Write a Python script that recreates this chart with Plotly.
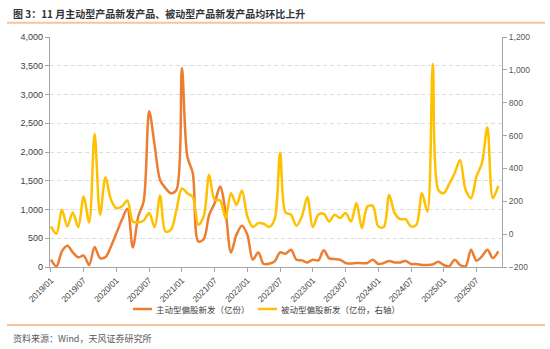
import plotly.graph_objects as go

# Monthly new issuance of equity-oriented funds, 2019/01 - 2025/11
months = [f"{y}/{m:02d}" for y in range(2019, 2026) for m in range(1, 13)][:83]

# 主动型偏股新发（亿份） - left axis
active = [127, 12, 272, 370, 254, 168, 197, 35, 347, 156, 173, 358,
          590, 820, 1011, 341, 878, 1150, 2710, 2120, 1514, 1370, 1283, 1340,
          3460, 1920, 1630, 445, 485, 907, 1110, 1400, 965, 254, 560, 717,
          560, 127, 254, 52, 58, 98, 254, 231, 300, 127, 115, 80,
          127, 115, 290, 150, 139, 127, 70, 60, 70, 65, 70, 127,
          52, 70, 104, 80, 80, 104, 52, 52, 35, 35, 46, 92,
          35, 12, 127, 35, 12, 300, 110, 185, 300, 156, 272]

# 被动型偏股新发（亿份，右轴） - right axis
passive = [47, 2, 148, 47, 132, 43, 229, 71, 610, 118, 346, 209,
           158, 168, 205, 77, 71, 83, 128, 43, 233, 15, 27, 148,
           278, 249, 225, 57, 108, 361, 209, 205, 98, 249, 178, 265,
           108, 43, 67, 63, 43, 91, 496, 132, 118, 51, 108, 225,
           43, 118, 124, 77, 118, 98, 128, 77, 189, 37, 168, 172,
           47, 43, 239, 128, 91, 91, 47, 57, 249, 138, 1035, 270,
           249, 306, 371, 452, 270, 219, 351, 432, 650, 219, 294]

names = ["主动型偏股新发（亿份）", "被动型偏股新发（亿份，右轴）"]
colors = ["#ED7D31", "#FFC000"]

tick_idx = list(range(0, len(months), 6))
tick_text = [months[i] for i in tick_idx]

W_PX, H_PX = 550, 349
ML, MR, MT, MB = 50, 48, 37, 82
PW, PH = W_PX - ML - MR, H_PX - MT - MB


def px_x(p):
    return (p - ML) / PW


def px_y(p):
    return (H_PX - MB - p) / PH


FONT = "Liberation Sans, Noto Sans CJK SC, sans-serif"
CJK = "Noto Sans CJK SC, Liberation Sans, sans-serif"

x = list(range(len(months)))
fig = go.Figure()
fig.add_trace(go.Scatter(x=x, y=active, mode="lines", name=names[0],
                         line=dict(color=colors[0], width=2.5, shape="spline", smoothing=0.9),
                         yaxis="y"))
fig.add_trace(go.Scatter(x=x, y=passive, mode="lines", name=names[1],
                         line=dict(color=colors[1], width=2.5, shape="spline", smoothing=0.9),
                         yaxis="y2"))

shapes = []
annotations = []

# header and footer rules
for yp in (22.7, 325):
    shapes.append(dict(type="line", xref="paper", yref="paper",
                       x0=px_x(7), x1=px_x(545), y0=px_y(yp), y1=px_y(yp),
                       line=dict(color="#F6C39E", width=2)))

annotations.append(dict(text="<b>图 3：11 月主动型产品新发产品、被动型产品新发产品均环比上升</b>",
                        xref="paper", yref="paper", x=px_x(11), y=px_y(14),
                        xanchor="left", yanchor="middle", showarrow=False,
                        font=dict(family=CJK, size=10, color="#333333")))
annotations.append(dict(text="资料来源：Wind，天风证券研究所",
                        xref="paper", yref="paper", x=px_x(11), y=px_y(338),
                        xanchor="left", yanchor="middle", showarrow=False,
                        font=dict(family=CJK, size=9, color="#595959")))

# legend drawn below the axis
legend_pos = [(133, 152), (258, 277)]
for (a, b), nm, c in zip(legend_pos, names, colors):
    shapes.append(dict(type="line", xref="paper", yref="paper",
                       x0=px_x(a), x1=px_x(b), y0=px_y(309), y1=px_y(309),
                       line=dict(color=c, width=2.5)))
    annotations.append(dict(text=nm, xref="paper", yref="paper",
                            x=px_x(b + 2), y=px_y(309), xanchor="left", yanchor="middle",
                            showarrow=False,
                            font=dict(family=CJK, size=8.5, color="#404040")))

fig.update_layout(
    width=W_PX, height=H_PX,
    margin=dict(l=ML, r=MR, t=MT, b=MB),
    paper_bgcolor="white", plot_bgcolor="white",
    showlegend=False,
    shapes=shapes, annotations=annotations,
    xaxis=dict(range=[-0.18, 82.68], tickmode="array", tickvals=tick_idx, ticktext=tick_text,
               tickangle=-45, ticks="outside", ticklen=4, tickcolor="#A6A6A6",
               showline=True, linecolor="#A6A6A6", linewidth=1.2, showgrid=False,
               zeroline=False, tickfont=dict(family=FONT, size=8.5, color="#404040")),
    yaxis=dict(range=[0, 4000], dtick=500, tickformat=",", ticks="outside", ticklen=4,
               tickcolor="#A6A6A6", showline=True, linecolor="#A6A6A6", linewidth=1.2,
               showgrid=True, gridcolor="#DDDDDD", griddash="4px,3px", gridwidth=1,
               zeroline=False, tickfont=dict(family=FONT, size=9, color="#404040")),
    yaxis2=dict(range=[-200, 1200], dtick=200, tickformat=",", overlaying="y", side="right",
                ticks="outside", ticklen=4, tickcolor="#A6A6A6", showline=True,
                linecolor="#A6A6A6", linewidth=1.2, showgrid=False, zeroline=False,
                tickfont=dict(family=FONT, size=8.5, color="#595959")),
)

fig.write_html("out.html")
